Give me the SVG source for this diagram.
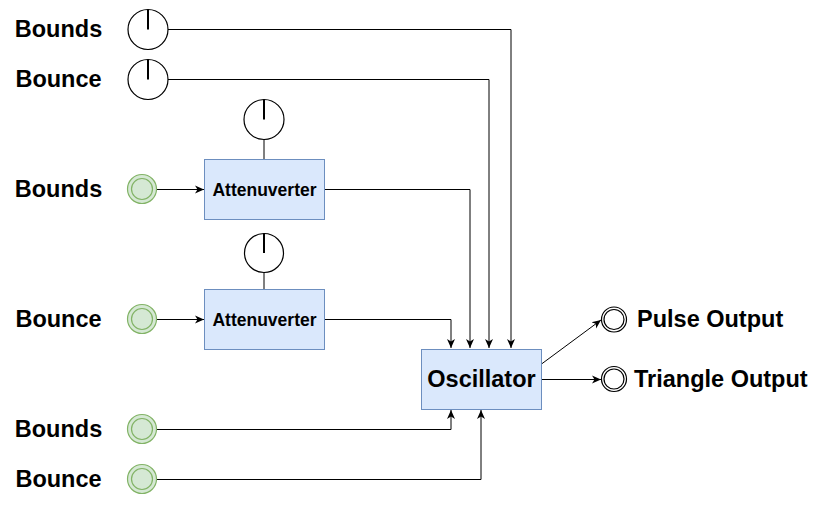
<svg xmlns="http://www.w3.org/2000/svg" width="818" height="507" viewBox="0 0 818 507">
<defs>
<style>
.lbl{font-family:"Liberation Sans",Arial,sans-serif;font-weight:bold;font-size:23.5px;fill:#000}
.small{font-family:"Liberation Sans",Arial,sans-serif;font-weight:bold;font-size:17.5px;fill:#000}
.knob{fill:#fff;stroke:#000;stroke-width:1.2}
.ind{stroke:#000;stroke-width:2}
.box{fill:#dae8fc;stroke:#6c8ebf;stroke-width:1}
.gout{fill:#d5e8d4;stroke:#82b366;stroke-width:1.2}
.out{fill:#fff;stroke:#000;stroke-width:1.2}
.wire{fill:none;stroke:#000;stroke-width:1}
</style>
<marker id="arr" markerUnits="userSpaceOnUse" markerWidth="10" markerHeight="10" refX="9" refY="5" orient="auto" viewBox="0 0 10 10">
<path d="M0,1 L9,5 L0,9 L2.5,5 z" fill="#000"/>
</marker>
</defs>

<g id="labels">
<text class="lbl" x="58.5" y="37" text-anchor="middle">Bounds</text>
<text class="lbl" x="58.5" y="87" text-anchor="middle">Bounce</text>
<text class="lbl" x="58.5" y="197" text-anchor="middle">Bounds</text>
<text class="lbl" x="58.5" y="327" text-anchor="middle">Bounce</text>
<text class="lbl" x="58.5" y="437" text-anchor="middle">Bounds</text>
<text class="lbl" x="58.5" y="487" text-anchor="middle">Bounce</text>
</g>

<g id="connectors">
<polyline class="wire" points="168,29.5 511,29.5 511,348" marker-end="url(#arr)"/>
<polyline class="wire" points="168,79.5 489,79.5 489,348" marker-end="url(#arr)"/>
<polyline class="wire" points="324.5,189.5 470,189.5 470,348" marker-end="url(#arr)"/>
<polyline class="wire" points="324.5,319.5 451,319.5 451,348" marker-end="url(#arr)"/>
<polyline class="wire" points="156.5,429.5 451,429.5 451,410" marker-end="url(#arr)"/>
<polyline class="wire" points="156.5,479.5 481,479.5 481,410" marker-end="url(#arr)"/>
<line class="wire" x1="156.5" y1="189.5" x2="204" y2="189.5" marker-end="url(#arr)"/>
<line class="wire" x1="156.5" y1="319.5" x2="204" y2="319.5" marker-end="url(#arr)"/>
<line class="wire" x1="264" y1="139" x2="264" y2="159.5"/>
<line class="wire" x1="264" y1="273" x2="264" y2="289.5"/>
<line class="wire" x1="541.5" y1="364" x2="601" y2="320" stroke="#444" marker-end="url(#arr)"/>
<line class="wire" x1="541.5" y1="379.5" x2="601" y2="379.5" marker-end="url(#arr)"/>
</g>

<g id="knob-bounds-top">
<circle class="knob" cx="148" cy="29.5" r="20"/>
<line class="ind" x1="148" y1="9.5" x2="148" y2="29.5"/>
</g>
<g id="knob-bounce-top">
<circle class="knob" cx="148" cy="79.5" r="20"/>
<line class="ind" x1="148" y1="59.5" x2="148" y2="79.5"/>
</g>
<g id="knob-att1">
<circle class="knob" cx="264" cy="119.5" r="20"/>
<line class="ind" x1="264" y1="99.5" x2="264" y2="119.5"/>
</g>
<g id="knob-att2">
<circle class="knob" cx="264" cy="253" r="19.5"/>
<line class="ind" x1="264" y1="233.5" x2="264" y2="253"/>
</g>

<g id="cv-bounds-1">
<circle class="gout" cx="142" cy="189" r="14.5"/>
<circle class="gout" cx="142" cy="189" r="10.5"/>
</g>
<g id="cv-bounce-1">
<circle class="gout" cx="142" cy="319" r="14.5"/>
<circle class="gout" cx="142" cy="319" r="10.5"/>
</g>
<g id="cv-bounds-2">
<circle class="gout" cx="142" cy="429" r="14.5"/>
<circle class="gout" cx="142" cy="429" r="10.5"/>
</g>
<g id="cv-bounce-2">
<circle class="gout" cx="142" cy="479" r="14.5"/>
<circle class="gout" cx="142" cy="479" r="10.5"/>
</g>

<g id="attenuverter-1">
<rect class="box" x="204.5" y="159.5" width="120" height="60"/>
<text class="small" x="264.5" y="195.5" text-anchor="middle">Attenuverter</text>
</g>
<g id="attenuverter-2">
<rect class="box" x="204.5" y="289.5" width="120" height="60"/>
<text class="small" x="264.5" y="325.5" text-anchor="middle">Attenuverter</text>
</g>

<g id="oscillator">
<rect class="box" x="421.5" y="349.5" width="120" height="60"/>
<text class="lbl" x="481.5" y="387" text-anchor="middle">Oscillator</text>
</g>

<g id="pulse-output">
<circle class="out" cx="614" cy="319.5" r="12.5"/>
<circle class="out" cx="614" cy="319.5" r="10"/>
<text class="lbl" x="637" y="327">Pulse Output</text>
</g>
<g id="triangle-output">
<circle class="out" cx="614" cy="379" r="12.5"/>
<circle class="out" cx="614" cy="379" r="10"/>
<text class="lbl" x="634" y="387">Triangle Output</text>
</g>
</svg>
